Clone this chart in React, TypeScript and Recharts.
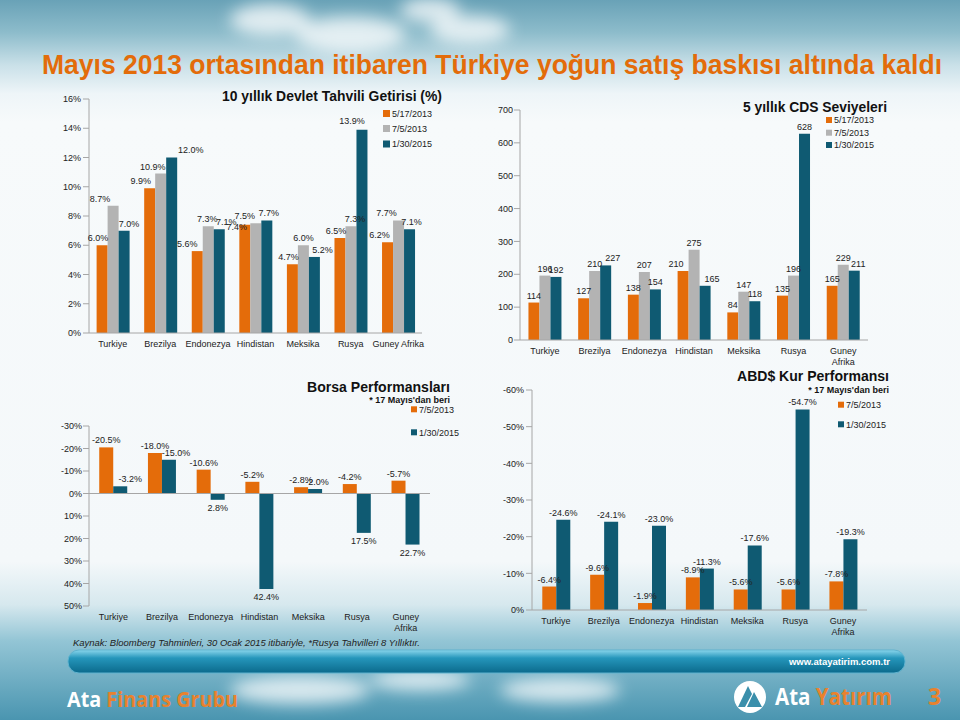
import React from "react";
import { BarChart, Bar, XAxis, YAxis, LabelList, ReferenceLine } from "recharts";

const FONT = "'Liberation Sans', Arial, sans-serif";
const ORANGE = "#E46C0A";
const GRAY = "#B3B3B3";
const TEAL = "#0F5A72";
const AXIS = "#A6A6A6";
const INK = "#222222";

const countries = ["Turkiye", "Brezilya", "Endonezya", "Hindistan", "Meksika", "Rusya", "Guney Afrika"];

// 10 yıllık Devlet Tahvili Getirisi (%)
const bondMay17 = [6.0, 9.9, 5.6, 7.4, 4.7, 6.5, 6.2];
const bondJul5 = [8.7, 10.9, 7.3, 7.5, 6.0, 7.3, 7.7];
const bondJan30 = [7.0, 12.0, 7.1, 7.7, 5.2, 13.9, 7.1];
const bondTicks = [0, 2, 4, 6, 8, 10, 12, 14, 16];

// 5 yıllık CDS Seviyeleri
const cdsMay17 = [114, 127, 138, 210, 84, 135, 165];
const cdsJul5 = [196, 210, 207, 275, 147, 196, 229];
const cdsJan30 = [192, 227, 154, 165, 118, 628, 211];
const cdsTicks = [0, 100, 200, 300, 400, 500, 600, 700];

// Borsa Performansları
const stockJul5 = [-20.5, -18.0, -10.6, -5.2, -2.8, -4.2, -5.7];
const stockJan30 = [-3.2, -15.0, 2.8, 42.4, -2.0, 17.5, 22.7];
const stockTicks = [-30, -20, -10, 0, 10, 20, 30, 40, 50];

// ABD$ Kur Performansı
const fxJul5 = [-6.4, -9.6, -1.9, -8.9, -5.6, -5.6, -7.8];
const fxJan30 = [-24.6, -24.1, -23.0, -11.3, -17.6, -54.7, -19.3];
const fxTicks = [-60, -50, -40, -30, -20, -10, 0];

// label nudges (px) so the value labels sit as in the original slide
const bondNudge1 = [[-4, 0], [-9, 0], [-10, 0], [-8, 9], [-4, 0], [-4, 0], [-8, 0]];
const bondNudge2 = [[-13, 0], [-8, 0], [-1, 0], [-11, 0], [0, 0], [4, 0], [-12, 0]];
const bondNudge3 = [[5, 0], [19, -1], [7, 0], [2, 0], [8, 0], [-10, -2], [2, 0]];
const cdsNudge1 = [[0, 0], [0, 0], [0, 0], [-7, 0], [0, 0], [0, 0], [0, 0]];
const cdsNudge3 = [[0, 0], [7, 0], [0, 0], [7, 0], [0, 0], [0, 0], [4, 0]];
const stockNudge2 = [[10, 0], [7, 0], [0, 0], [0, 0], [2, 0], [0, 0], [0, 0]];

const bondData = countries.map((name, i) => ({ name, s1: bondMay17[i], s2: bondJul5[i], s3: bondJan30[i] }));
const cdsData = countries.map((name, i) => ({ name, s1: cdsMay17[i], s2: cdsJul5[i], s3: cdsJan30[i] }));
const stockData = countries.map((name, i) => ({ name, s1: stockJul5[i], s2: stockJan30[i] }));
const fxData = countries.map((name, i) => ({ name, s1: fxJul5[i], s2: fxJan30[i] }));

const pct = (v: any) => Number(v).toFixed(1) + "%";
const whole = (v: any) => String(v);

const tickStyle = { fontSize: 9, fill: INK, fontFamily: FONT };

function CatTick(props: any) {
  const { x, y, payload, wrap } = props;
  const words: string[] = wrap && payload.value === "Guney Afrika" ? ["Guney", "Afrika"] : [payload.value];
  return (
    <text x={x} y={y} textAnchor="middle" fontSize={9} fill={INK} fontFamily={FONT}>
      {words.map((w, i) => (
        <tspan key={i} x={x} dy={i === 0 ? "0.71em" : "1.2em"}>
          {w}
        </tspan>
      ))}
    </text>
  );
}

// value label drawn past the bar's end, with an optional per-point nudge
function makeLabel(fmt: (v: any) => string, nudge?: number[][]) {
  return (props: any) => {
    const vb = props.viewBox || props;
    const x = Number(vb.x);
    const y = Number(vb.y);
    const w = Number(vb.width);
    const h = Number(vb.height);
    const i = props.index ?? 0;
    const [dx, dy] = (nudge && nudge[i]) || [0, 0];
    const down = h < 0;
    const ty = down ? y + 4 + 7 : y - 4;
    return (
      <text x={x + w / 2 + dx} y={ty + dy} textAnchor="middle" fontSize={9} fill={INK} fontFamily={FONT}>
        {fmt(props.value)}
      </text>
    );
  };
}

function Labels({ k, fmt, nudge }: { k: string; fmt: (v: any) => string; nudge?: number[][] }) {
  return <LabelList dataKey={k} position="top" content={makeLabel(fmt, nudge)} />;
}

function legendItem(x: number, y: number, color: string, label: string, size = 7) {
  return (
    <g key={label + x}>
      <rect x={x} y={y - size / 2} width={size} height={size} fill={color} />
      <text x={x + size + 2} y={y + 3.2} fontSize={9} fill={INK} fontFamily={FONT}>
        {label}
      </text>
    </g>
  );
}

function Background() {
  return (
    <svg width={960} height={720} style={{ position: "absolute", left: 0, top: 0 }}>
      <defs>
        <linearGradient id="bg" x1="0" y1="0" x2="0" y2="1">
          <stop offset="0" stopColor="#69a2b7" />
          <stop offset="0.045" stopColor="#8dbccb" />
          <stop offset="0.09" stopColor="#c9e0e8" />
          <stop offset="0.13" stopColor="#eef5f8" />
          <stop offset="0.17" stopColor="#f7fafb" />
          <stop offset="0.78" stopColor="#f4f8fa" />
          <stop offset="0.84" stopColor="#d6e8ee" />
          <stop offset="0.89" stopColor="#93c5d5" />
          <stop offset="1" stopColor="#4a95b0" />
        </linearGradient>
        <linearGradient id="bar" x1="0" y1="0" x2="0" y2="1">
          <stop offset="0" stopColor="#8ad6ec" />
          <stop offset="0.35" stopColor="#2596bb" />
          <stop offset="1" stopColor="#0b6a8c" />
        </linearGradient>
        <filter id="blur" x="-50%" y="-50%" width="200%" height="200%">
          <feGaussianBlur stdDeviation="8" />
        </filter>
      </defs>
      <rect x={0} y={0} width={960} height={720} fill="url(#bg)" />
      <g filter="url(#blur)" fill="#ffffff" opacity={0.75}>
        <ellipse cx={270} cy={20} rx={40} ry={16} />
        <ellipse cx={350} cy={35} rx={55} ry={18} />
        <ellipse cx={430} cy={10} rx={30} ry={12} />
        <ellipse cx={470} cy={30} rx={40} ry={14} />
        <ellipse cx={300} cy={690} rx={70} ry={14} />
        <ellipse cx={420} cy={680} rx={50} ry={10} />
        <ellipse cx={560} cy={690} rx={60} ry={12} />
      </g>
      <rect x={68} y={650} width={837} height={23} rx={11} fill="url(#bar)" stroke="#5fb3cf" strokeWidth={1} />
    </svg>
  );
}

function Overlay() {
  return (
    <svg width={960} height={720} style={{ position: "absolute", left: 0, top: 0, pointerEvents: "none" }}>
      <g transform="translate(42,74) scale(0.8,1)">
        <text
          x={0}
          y={0}
          fontSize={28}
          fontWeight="bold"
          fill="#E36C0A"
          fontFamily="'Liberation Sans Narrow', 'Liberation Sans', Arial, sans-serif"
          textLength={1125}
          lengthAdjust="spacingAndGlyphs"
        >
          Mayıs 2013 ortasından itibaren Türkiye yoğun satış baskısı altında kaldı
        </text>
      </g>

      {/* chart 1 */}
      <text x={222} y={101} fontSize={14} fontWeight="bold" fill="#111" fontFamily={FONT} textLength={220} lengthAdjust="spacingAndGlyphs">
        10 yıllık Devlet Tahvili Getirisi (%)
      </text>
      {legendItem(383, 113.5, ORANGE, "5/17/2013")}
      {legendItem(383, 128.5, GRAY, "7/5/2013")}
      {legendItem(383, 144, TEAL, "1/30/2015")}

      {/* chart 2 */}
      <text x={743} y={112} fontSize={14} fontWeight="bold" fill="#111" fontFamily={FONT} textLength={144} lengthAdjust="spacingAndGlyphs">
        5 yıllık CDS Seviyeleri
      </text>
      {legendItem(826, 120, ORANGE, "5/17/2013", 6)}
      {legendItem(826, 132.7, GRAY, "7/5/2013", 6)}
      {legendItem(826, 145, TEAL, "1/30/2015", 6)}

      {/* chart 3 */}
      <text x={307} y={392} fontSize={14} fontWeight="bold" fill="#111" fontFamily={FONT} textLength={143} lengthAdjust="spacingAndGlyphs">
        Borsa Performansları
      </text>
      <text x={450} y={402.5} fontSize={9} fontWeight="bold" fill="#111" fontFamily={FONT} textAnchor="end">
        * 17 Mayıs'dan beri
      </text>
      {legendItem(411, 409.3, ORANGE, "7/5/2013", 6)}
      {legendItem(411, 432.3, TEAL, "1/30/2015", 6)}

      {/* chart 4 */}
      <text x={737} y={381} fontSize={14} fontWeight="bold" fill="#111" fontFamily={FONT} textLength={152} lengthAdjust="spacingAndGlyphs">
        ABD$ Kur Performansı
      </text>
      <text x={889} y={392.5} fontSize={9} fontWeight="bold" fill="#111" fontFamily={FONT} textAnchor="end">
        * 17 Mayıs'dan beri
      </text>
      {legendItem(838, 404.7, ORANGE, "7/5/2013", 6)}
      {legendItem(838, 424.3, TEAL, "1/30/2015", 6)}

      <text x={73} y={646} fontSize={9.5} fontStyle="italic" fill={INK} fontFamily={FONT} textLength={347} lengthAdjust="spacingAndGlyphs">
        Kaynak: Bloomberg Tahminleri, 30 Ocak 2015 itibariyle, *Rusya  Tahvilleri 8 Yıllıktır.
      </text>

      {/* footer */}
      <text x={890} y={665} fontSize={9.5} fontWeight="bold" fill="#ffffff" fontFamily={FONT} textAnchor="end">
        www.atayatirim.com.tr
      </text>
      <text x={67} y={707} fontSize={22} fontWeight="bold" fontFamily="'Open Sans', 'Noto Sans', sans-serif" textLength={171} lengthAdjust="spacingAndGlyphs">
        <tspan fill="#ffffff">Ata </tspan>
        <tspan fill="#E8822E">Finans Grubu</tspan>
      </text>
      <circle cx={750} cy={697} r={16} fill="#ffffff" />
      <polygon points="738,707 748,686 752,694 745,707" fill="#3a8fab" />
      <polygon points="747,707 754,692 762,707" fill="#3a8fab" />
      <text x={775} y={705} fontSize={23} fontWeight="bold" fontFamily="'Open Sans', 'Noto Sans', sans-serif" textLength={117} lengthAdjust="spacingAndGlyphs">
        <tspan fill="#ffffff">Ata </tspan>
        <tspan fill="#E8822E">Yatırım</tspan>
      </text>
      <text x={928} y={705} fontSize={23} fontWeight="bold" fill="#E8822E" fontFamily="'Open Sans', 'Noto Sans', sans-serif">
        3
      </text>
    </svg>
  );
}

export default function App() {
  return (
    <div style={{ position: "absolute", left: 0, top: 0, width: 960, height: 720, overflow: "hidden", fontFamily: FONT }}>
      <Background />

      {/* 10 yıllık Devlet Tahvili */}
      <div style={{ position: "absolute", left: 30, top: 85 }}>
        <BarChart width={410} height={280} data={bondData} margin={{ top: 14, right: 18, bottom: 2, left: 0 }} barGap={0} barCategoryGap="16%">
          <XAxis dataKey="name" height={30} axisLine={{ stroke: AXIS }} tickLine={false} interval={0} tick={(p: any) => <CatTick {...p} />} />
          <YAxis width={59} domain={[0, 16]} ticks={bondTicks} interval={0} tickFormatter={(v) => `${v}%`} axisLine={{ stroke: AXIS }} tickLine={{ stroke: AXIS }} tick={tickStyle} />
          <Bar dataKey="s1" fill={ORANGE} isAnimationActive={false}>
            <Labels k="s1" fmt={pct} nudge={bondNudge1} />
          </Bar>
          <Bar dataKey="s2" fill={GRAY} isAnimationActive={false}>
            <Labels k="s2" fmt={pct} nudge={bondNudge2} />
          </Bar>
          <Bar dataKey="s3" fill={TEAL} isAnimationActive={false}>
            <Labels k="s3" fmt={pct} nudge={bondNudge3} />
          </Bar>
        </BarChart>
      </div>

      {/* 5 yıllık CDS */}
      <div style={{ position: "absolute", left: 470, top: 95 }}>
        <BarChart width={410} height={280} data={cdsData} margin={{ top: 15, right: 12, bottom: 2, left: 0 }} barGap={0} barCategoryGap="17%">
          <XAxis dataKey="name" height={33} axisLine={{ stroke: AXIS }} tickLine={false} interval={0} tick={(p: any) => <CatTick {...p} wrap />} />
          <YAxis width={50} domain={[0, 700]} ticks={cdsTicks} interval={0} tickMargin={1} axisLine={{ stroke: AXIS }} tickLine={{ stroke: AXIS }} tick={tickStyle} />
          <Bar dataKey="s1" fill={ORANGE} isAnimationActive={false}>
            <Labels k="s1" fmt={whole} nudge={cdsNudge1} />
          </Bar>
          <Bar dataKey="s2" fill={GRAY} isAnimationActive={false}>
            <Labels k="s2" fmt={whole} />
          </Bar>
          <Bar dataKey="s3" fill={TEAL} isAnimationActive={false}>
            <Labels k="s3" fmt={whole} nudge={cdsNudge3} />
          </Bar>
        </BarChart>
      </div>

      {/* Borsa Performansları */}
      <div style={{ position: "absolute", left: 30, top: 410 }}>
        <BarChart width={420} height={230} data={stockData} margin={{ top: 16, right: 20, bottom: 0, left: 0 }} barGap={0} barCategoryGap="21%">
          <XAxis dataKey="name" height={34} axisLine={false} tickLine={false} interval={0} tick={(p: any) => <CatTick {...p} wrap />} />
          <YAxis width={59} domain={[-30, 50]} reversed ticks={stockTicks} interval={0} tickMargin={1} tickFormatter={(v) => `${v}%`} axisLine={{ stroke: AXIS }} tickLine={{ stroke: AXIS }} tick={tickStyle} />
          <ReferenceLine y={0} stroke={AXIS} />
          <Bar dataKey="s1" fill={ORANGE} isAnimationActive={false}>
            <Labels k="s1" fmt={pct} />
          </Bar>
          <Bar dataKey="s2" fill={TEAL} isAnimationActive={false}>
            <Labels k="s2" fmt={pct} nudge={stockNudge2} />
          </Bar>
        </BarChart>
      </div>

      {/* ABD$ Kur Performansı */}
      <div style={{ position: "absolute", left: 470, top: 380 }}>
        <BarChart width={410} height={260} data={fxData} margin={{ top: 10, right: 13, bottom: 0, left: 0 }} barGap={0} barCategoryGap="21.5%">
          <XAxis dataKey="name" height={30} axisLine={{ stroke: AXIS }} tickLine={false} interval={0} tick={(p: any) => <CatTick {...p} wrap />} />
          <YAxis width={62} domain={[-60, 0]} reversed ticks={fxTicks} interval={0} tickFormatter={(v) => `${v}%`} axisLine={{ stroke: AXIS }} tickLine={{ stroke: AXIS }} tick={tickStyle} />
          <Bar dataKey="s1" fill={ORANGE} isAnimationActive={false}>
            <Labels k="s1" fmt={pct} />
          </Bar>
          <Bar dataKey="s2" fill={TEAL} isAnimationActive={false}>
            <Labels k="s2" fmt={pct} />
          </Bar>
        </BarChart>
      </div>

      <Overlay />
    </div>
  );
}
